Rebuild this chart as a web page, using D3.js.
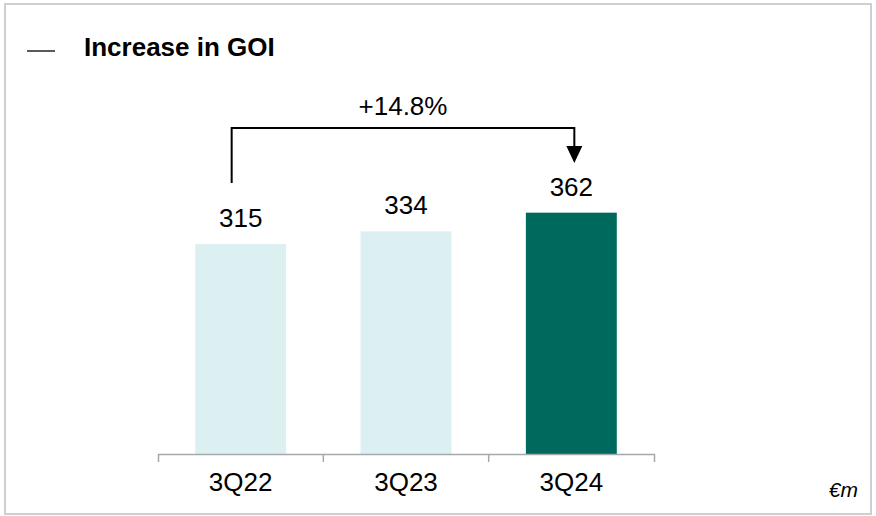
<!DOCTYPE html>
<html>
<head>
<meta charset="utf-8">
<script src="https://cdn.jsdelivr.net/npm/d3@7"></script>
<style>
  body { margin: 0; background: #fff; }
  text { font-family: "Liberation Sans", Arial, sans-serif; fill: #000; }
</style>
</head>
<body>
<script>
// chart data
const quarters = ["3Q22", "3Q23", "3Q24"];
const goi = [315, 334, 362];
const barColors = ["#dcf0f2", "#dcf0f2", "#00695e"];
const growthLabel = "+14.8%";

const width = 876, height = 516;

let svg = d3.select("body").append("svg")
  .attr("width", width)
  .attr("height", height);

// frame
svg.append("rect")
  .attr("x", 5).attr("y", 4)
  .attr("width", 866).attr("height", 510)
  .attr("fill", "none")
  .attr("stroke", "#cfcfcf")
  .attr("stroke-width", 2);

// title with dash
svg.append("line")
  .attr("x1", 27).attr("x2", 55)
  .attr("y1", 51).attr("y2", 51)
  .attr("stroke", "#000").attr("stroke-width", 1.3);
svg.append("text")
  .attr("x", 84).attr("y", 56)
  .style("font-size", "26px")
  .style("font-weight", "bold")
  .text("Increase in GOI");

// scales
let x = d3.scaleBand()
  .domain(quarters)
  .range([158, 654])
  .padding(0);
let y = d3.scaleLinear()
  .domain([0, 600])
  .range([454, 54]);

const barW = x.bandwidth() * 0.55;
const cx = d => x(d) + x.bandwidth() / 2;

// bars
svg.selectAll("rect.bar")
  .data(quarters)
  .enter().append("rect")
  .attr("class", "bar")
  .attr("x", d => cx(d) - barW / 2)
  .attr("width", barW)
  .attr("y", (d, i) => y(goi[i]))
  .attr("height", (d, i) => y(0) - y(goi[i]))
  .attr("fill", (d, i) => barColors[i]);

// value labels
svg.selectAll("text.val")
  .data(quarters)
  .enter().append("text")
  .attr("class", "val")
  .attr("x", d => cx(d))
  .attr("y", (d, i) => y(goi[i]) - 17)
  .attr("text-anchor", "middle")
  .style("font-size", "26px")
  .text((d, i) => goi[i]);

// x axis
let axis = svg.append("g")
  .attr("transform", "translate(0," + y(0) + ")")
  .call(d3.axisBottom(x).tickSizeInner(0).tickSizeOuter(8).tickPadding(19));
axis.select(".domain").attr("stroke", "#a3a9ad").attr("stroke-width", 1.5);
axis.selectAll("text")
  .style("font-size", "26px")
  .style("font-family", "Liberation Sans, Arial, sans-serif")
  .attr("fill", "#000");
// separators between categories
axis.selectAll("line.sep")
  .data(quarters.slice(1))
  .enter().append("line")
  .attr("class", "sep")
  .attr("x1", d => x(d)).attr("x2", d => x(d))
  .attr("y1", 0).attr("y2", 8)
  .attr("stroke", "#a3a9ad").attr("stroke-width", 1.5);

// growth bracket
const first = quarters[0], last = quarters[quarters.length - 1];
const lx = cx(first) - 9, rx = cx(last) + 3;
const topY = 128;
svg.append("path")
  .attr("d", "M" + lx + "," + (y(goi[0]) - 61) + "V" + topY + "H" + rx + "V" + 148)
  .attr("fill", "none")
  .attr("stroke", "#000")
  .attr("stroke-width", 2);
svg.append("path")
  .attr("d", "M" + (rx - 8) + ",146L" + (rx + 8) + ",146L" + rx + ",163Z")
  .attr("fill", "#000");
svg.append("text")
  .attr("x", (lx + rx) / 2)
  .attr("y", 115)
  .attr("text-anchor", "middle")
  .style("font-size", "26px")
  .text(growthLabel);

// unit note
svg.append("text")
  .attr("x", 858).attr("y", 497)
  .attr("text-anchor", "end")
  .style("font-size", "21px")
  .style("font-style", "italic")
  .text("€m");
</script>
</body>
</html>
